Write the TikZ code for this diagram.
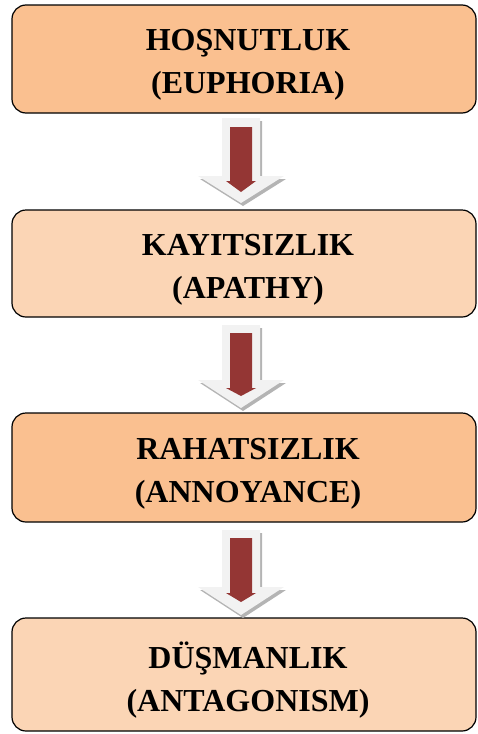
\documentclass[tikz,border=0pt]{standalone}
\usepackage{fontspec}
\setmainfont{Liberation Serif}
\definecolor{boxdark}{HTML}{FAC090}
\definecolor{boxlight}{HTML}{FBD5B5}
\definecolor{arrowred}{HTML}{943634}
\definecolor{arrowlight}{HTML}{F2F2F2}
\definecolor{arrowshadow}{HTML}{B4B4B4}
\tikzset{
  stagebox/.style={draw=black, line width=1.2pt, rounded corners=14pt,
    minimum width=464pt, minimum height=108pt, inner sep=0pt},
  stagetext/.style={align=center, inner sep=0pt,
    font=\fontsize{32}{43}\selectfont\bfseries, text=black},
  outerarrow/.style={fill=arrowlight, draw=none},
  shadowarrow/.style={fill=arrowshadow, draw=none},
  innerarrow/.style={fill=arrowred, draw=none}
}
\newcommand{\myblockarrow}[6]{%
  \fill[shadowarrow] (224pt,-#1pt-3pt) -- (262pt,-#1pt-3pt) -- (262pt,-#2pt-3pt) -- (286pt,-#2pt-3pt) -- (243pt,-#3pt-3pt) -- (200pt,-#2pt-3pt) -- (224pt,-#2pt-3pt) -- cycle;
  \fill[outerarrow] (222pt,-#1pt) -- (260pt,-#1pt) -- (260pt,-#2pt) -- (284pt,-#2pt) -- (241pt,-#3pt) -- (198pt,-#2pt) -- (222pt,-#2pt) -- cycle;
  \fill[innerarrow] (230pt,-#4pt) -- (252pt,-#4pt) -- (252pt,-#5pt) -- (256pt,-#5pt) -- (241pt,-#6pt) -- (226pt,-#5pt) -- (230pt,-#5pt) -- cycle;
}
\begin{document}
\begin{tikzpicture}
\useasboundingbox (0pt,0pt) rectangle (477pt,-734pt);
\node[stagebox, fill=boxdark] (b1) at (244pt,-59pt) {};
\node[stagebox, fill=boxlight, minimum height=107pt] (b2) at (244pt,-263.5pt) {};
\node[stagebox, fill=boxdark, minimum height=109pt] (b3) at (244pt,-467.5pt) {};
\node[stagebox, fill=boxlight, minimum height=113pt] (b4) at (244pt,-674.5pt) {};
\node[stagetext] (t1) at ([shift={(4pt,-6pt)}]b1.center) {HOŞNUTLUK\\(EUPHORIA)};
\node[stagetext] (t2) at ([shift={(4pt,-6pt)}]b2.center) {KAYITSIZLIK\\(APATHY)};
\node[stagetext] (t3) at ([shift={(4pt,-6pt)}]b3.center) {RAHATSIZLIK\\(ANNOYANCE)};
\node[stagetext] (t4) at ([shift={(4pt,-6pt)}]b4.center) {DÜŞMANLIK\\(ANTAGONISM)};
\myblockarrow{118}{176}{203}{127}{181}{192}
\myblockarrow{325}{380}{408}{333}{388}{396}
\myblockarrow{530}{587}{615}{538}{593}{602}
\end{tikzpicture}
\end{document}
